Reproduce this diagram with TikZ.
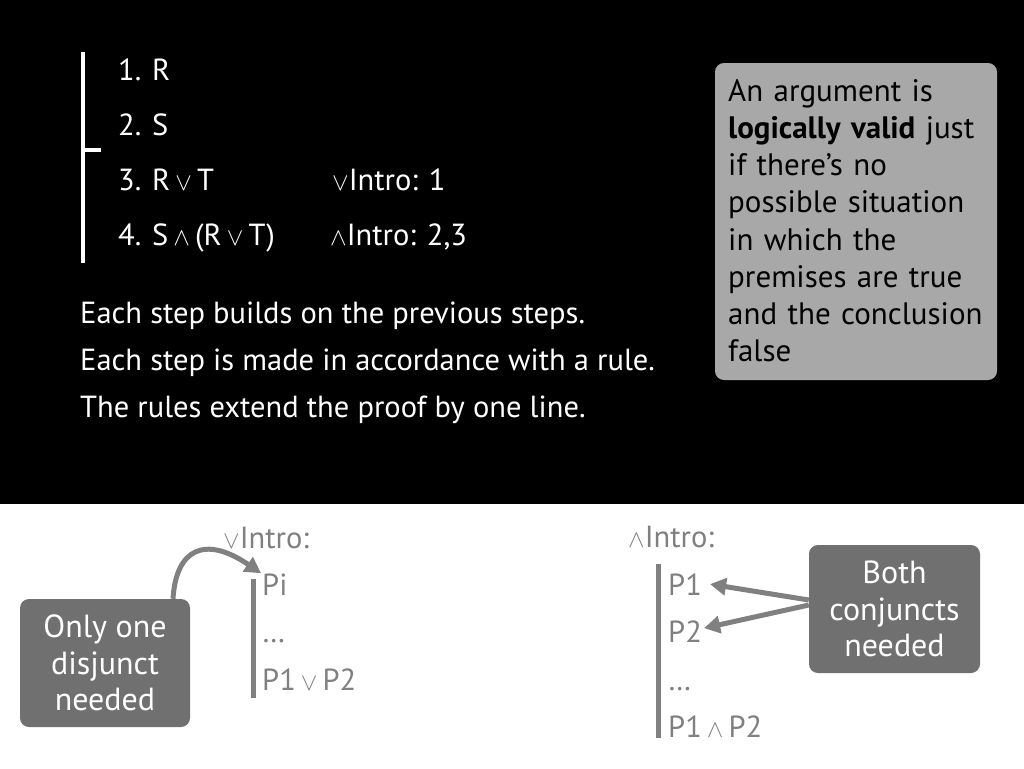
\documentclass[tikz,border=0pt]{standalone}
\usepackage{fontspec}
\setmainfont{PT Sans}
\usetikzlibrary{positioning, arrows.meta}

\definecolor{panelgray}{RGB}{168,168,168}
\definecolor{notegray}{RGB}{112,112,112}
\definecolor{inkgray}{RGB}{128,128,128}

\begin{document}
\begin{tikzpicture}[x=1pt, y=-1pt,
    txt/.style={anchor=base west, inner sep=0pt, font=\fontsize{30.5}{35}\selectfont},
    wtxt/.style={txt, text=white},
    gtxt/.style={txt, text=inkgray},
    note/.style={rounded corners=9pt, fill=notegray, text=white, align=center,
      inner sep=0pt, font=\fontsize{32}{36.5}\selectfont},
    pointer/.style={line width=5pt, draw=inkgray, -{Triangle[length=16pt,width=17pt]}}
  ]
  \useasboundingbox (0,0) rectangle (1024,768);
  \fill[black] (0,0) rectangle (1024,504);
  \fill[white] (0,504) rectangle (1024,768);

  % the proof
  \draw[white, line width=4.5pt] (83,52)--(83,263);
  \draw[white, line width=4.5pt] (83,150)--(101,150);
  \node[wtxt] (num1) at (118,80) {1.};
  \node[wtxt] (num2) at (118,135) {2.};
  \node[wtxt] (num3) at (118,190) {3.};
  \node[wtxt] (num4) at (118,245) {4.};
  \node[wtxt] (line1) at (152,80) {R};
  \node[wtxt] (line2) at (152,135) {S};
  \node[wtxt] (line3) at (152,190) {R\,$\vee$\,T};
  \node[wtxt] (line4) at (152,245) {S\,$\wedge$\,(R\,$\vee$\,T)};
  \node[wtxt] (why3) at (332,190) {$\vee$Intro: 1};
  \node[wtxt] (why4) at (330,245) {$\wedge$Intro: 2,3};

  \node[wtxt] (step1) at (80,323) {Each step builds on the previous steps.};
  \node[wtxt] (step2) at (80,370) {Each step is made in accordance with a rule.};
  \node[wtxt] (step3) at (80,417) {The rules extend the proof by one line.};

  % definition box
  \node[rounded corners=9pt, fill=panelgray, minimum width=282pt, minimum height=317pt,
    inner sep=0pt] (valid) at (856,221.5) {};
  \node[anchor=north west, inner sep=0pt, align=left, text width=285pt,
    font=\fontsize{31}{37.2}\selectfont] (validtext) at (728,79)
    {An argument is\\ \textbf{logically valid} just\\ if there’s no\\ possible situation\\
     in which the\\ premises are true\\ and the conclusion\\ false};

  % or intro
  \node[gtxt] (orhead) at (223,548) {$\vee$Intro:};
  \draw[inkgray, line width=5pt] (253,579)--(253,698);
  \node[gtxt] (pi) at (262,595) {Pi};
  \node[gtxt] (ordots) at (262,642) {\dots};
  \node[gtxt] (orend) at (262,690) {P1\,$\vee$\,P2};
  \node[note, minimum width=170pt, minimum height=128pt] (only) at (105,663)
    {Only one\\ disjunct\\ needed};
  \draw[pointer] ([xshift=68pt]only.north) .. controls +(3,-50) and (205,535) .. ([xshift=-1pt]pi.north west);

  % and intro
  \node[gtxt] (andhead) at (628,547) {$\wedge$Intro:};
  \draw[inkgray, line width=5pt] (658,564)--(658,738);
  \node[gtxt] (pone) at (668,595) {P1};
  \node[gtxt] (ptwo) at (668,642) {P2};
  \node[gtxt] (anddots) at (668,690) {\dots};
  \node[gtxt] (andend) at (668,737) {P1\,$\wedge$\,P2};
  \node[note, minimum width=171pt, minimum height=128pt] (both) at (894.5,609)
    {Both\\ conjuncts\\ needed};
  \draw[pointer] ([yshift=9pt]both.west) -- ([xshift=8pt]pone.east);
  \draw[pointer] ([yshift=4pt]both.west) -- ([xshift=2pt,yshift=3pt]ptwo.east);
\end{tikzpicture}
\end{document}
